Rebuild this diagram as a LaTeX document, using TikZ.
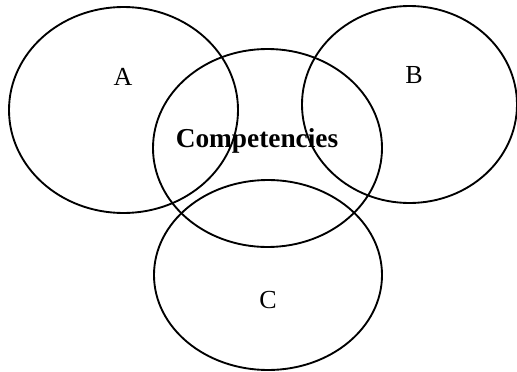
\documentclass[tikz,border=0pt]{standalone}
\usepackage{fontspec}
\setmainfont{Liberation Serif}
\begin{document}
\begin{tikzpicture}[x=0.75pt,y=-0.75pt,
  ring/.style={draw=black,line width=1.4pt},
  lbl/.style={font=\fontsize{19.5}{22}\selectfont,inner sep=0pt},
  core/.style={font=\fontsize{20.5}{24}\selectfont\bfseries,inner sep=0pt}]
\useasboundingbox (0,0) rectangle (517,371);
\draw[ring] (123.5,110) ellipse [x radius=114.5, y radius=103];
\draw[ring] (267.5,148) ellipse [x radius=114.5, y radius=99];
\draw[ring] (409.5,104.5) ellipse [x radius=107.5, y radius=98.5];
\draw[ring] (268,275) ellipse [x radius=114, y radius=95];
\node[lbl] (A) at (123,77) {A};
\node[lbl] (B) at (414,75) {B};
\node[lbl] (C) at (268,300) {C};
\node[core] (K) at (257,141) {Competencies};
\end{tikzpicture}
\end{document}
